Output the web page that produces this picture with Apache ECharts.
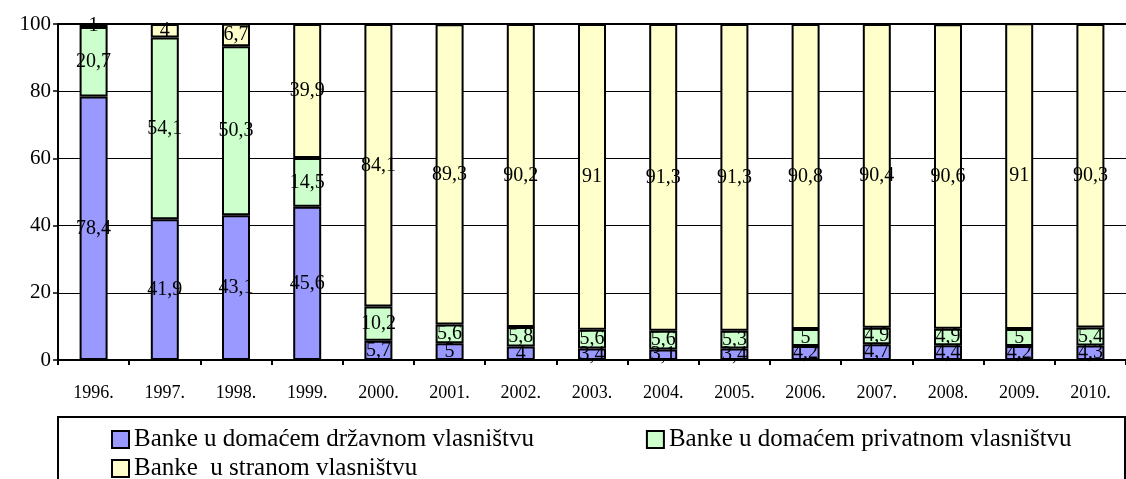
<!DOCTYPE html>
<html>
<head>
<meta charset="utf-8">
<script src="https://cdn.jsdelivr.net/npm/echarts@6/dist/echarts.min.js"></script>
<style>
  html, body { margin: 0; padding: 0; background: #fff; }
  #chart { width: 1126px; height: 479px; }
</style>
</head>
<body>
<div id="chart"></div>
<script>
var years = ['1996.', '1997.', '1998.', '1999.', '2000.', '2001.', '2002.', '2003.', '2004.', '2005.', '2006.', '2007.', '2008.', '2009.', '2010.'];
var drzavno = [78.4, 41.9, 43.1, 45.6, 5.7, 5, 4, 3.4, 3.1, 3.4, 4.2, 4.7, 4.4, 4.2, 4.3];
var privatno = [20.7, 54.1, 50.3, 14.5, 10.2, 5.6, 5.8, 5.6, 5.6, 5.3, 5, 4.9, 4.9, 5, 5.4];
var strano = [1, 4, 6.7, 39.9, 84.1, 89.3, 90.2, 91, 91.3, 91.3, 90.8, 90.4, 90.6, 91, 90.3];
var names = ['Banke u domaćem državnom vlasništvu', 'Banke u domaćem privatnom vlasništvu', 'Banke  u stranom vlasništvu'];

var serif = '"Liberation Serif", "DejaVu Serif", serif';
var chart = echarts.init(document.getElementById('chart'));

function makeSeries(name, data, color) {
    return {
        name: name,
        type: 'bar',
        stack: 'total',
        barWidth: 28,
        clip: false,
        data: data,
        itemStyle: { color: color, borderColor: '#000', borderWidth: 2 },
        label: {
            show: true,
            position: 'inside',
            color: '#000',
            fontFamily: serif,
            fontSize: 20,
            formatter: function (p) { return String(p.value).replace('.', ','); }
        }
    };
}

var legendText = { color: '#000', fontFamily: serif, fontSize: 25 };

var option = {
    animation: false,
    grid: { left: 58, top: 24, width: 1080, height: 336 },
    xAxis: [{
        type: 'category',
        data: years,
        axisLine: { lineStyle: { color: '#000', width: 2 } },
        axisTick: { show: true, length: 5, lineStyle: { color: '#000', width: 2 } },
        axisLabel: { color: '#000', fontFamily: serif, fontSize: 18, margin: 24 }
    }, {
        type: 'category',
        position: 'top',
        data: years,
        axisLine: { lineStyle: { color: '#000', width: 2 } },
        axisTick: { show: false },
        axisLabel: { show: false }
    }],
    yAxis: {
        type: 'value',
        min: 0,
        max: 100,
        interval: 20,
        axisLine: { show: true, lineStyle: { color: '#000', width: 2 } },
        axisTick: { show: true, length: 5, lineStyle: { color: '#000', width: 1.5 } },
        axisLabel: { color: '#000', fontFamily: serif, fontSize: 21, margin: 7 },
        splitLine: { lineStyle: { color: '#000', width: 1 } }
    },
    legend: [{
        data: [names[0], names[1]],
        left: 106,
        top: 422,
        icon: 'rect',
        itemWidth: 17,
        itemHeight: 17,
        itemGap: 112,
        textStyle: legendText
    }, {
        data: [names[2]],
        left: 106,
        top: 451,
        icon: 'rect',
        itemWidth: 17,
        itemHeight: 17,
        textStyle: legendText
    }],
    graphic: [{
        type: 'rect',
        shape: { x: 58, y: 417, width: 1067, height: 100 },
        style: { fill: 'none', stroke: '#000', lineWidth: 2 }
    }],
    series: [
        makeSeries(names[0], drzavno, '#9999FF'),
        makeSeries(names[1], privatno, '#CCFFCC'),
        makeSeries(names[2], strano, '#FFFFCC')
    ]
};

chart.setOption(option);
</script>
</body>
</html>
